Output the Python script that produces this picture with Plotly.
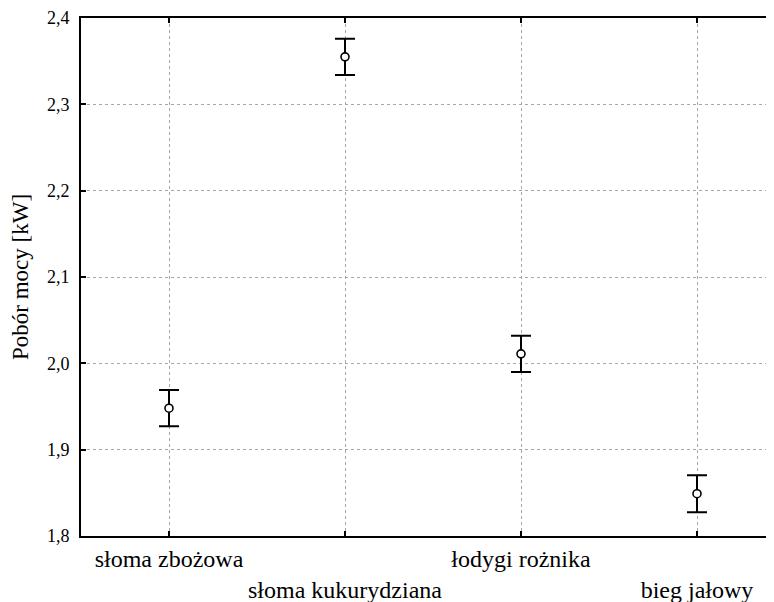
import plotly.graph_objects as go

categories = ["słoma zbożowa", "słoma kukurydziana", "łodygi rożnika", "bieg jałowy"]
means = [1.948, 2.355, 2.011, 1.849]
errors = [0.021, 0.021, 0.021, 0.0215]
y_ticks = [1.8, 1.9, 2.0, 2.1, 2.2, 2.3, 2.4]
y_tick_labels = ["1,8", "1,9", "2,0", "2,1", "2,2", "2,3", "2,4"]

x_pos = list(range(len(categories)))
tick_text = [c if i % 2 == 0 else "&nbsp;<br>" + c for i, c in enumerate(categories)]

FONT = "Liberation Serif"

fig = go.Figure()
fig.add_trace(go.Scatter(
    x=x_pos, y=means, mode="markers",
    marker=dict(symbol="circle", size=8, color="white",
                line=dict(color="black", width=1.6)),
    error_y=dict(type="data", array=errors, visible=True,
                 color="black", thickness=2, width=10),
    showlegend=False, hoverinfo="skip",
))

fig.update_layout(
    width=777, height=594,
    margin=dict(l=73, r=0, t=10, b=66),
    paper_bgcolor="white", plot_bgcolor="white",
    font=dict(family=FONT, color="black"),
    xaxis=dict(
        range=[-0.5, 3.5], tickmode="array", tickvals=x_pos, ticktext=tick_text,
        showline=True, linecolor="black", linewidth=2, mirror="ticks",
        ticks="inside", ticklen=5, tickwidth=2, tickcolor="black",
        showgrid=True, gridcolor="#a8a8a8", griddash="dot", gridwidth=1,
        tickfont=dict(size=24, family=FONT), zeroline=False,
    ),
    yaxis=dict(
        range=[1.8, 2.4], tickmode="array", tickvals=y_ticks, ticktext=y_tick_labels,
        showline=True, linecolor="black", linewidth=2, mirror=False,
        ticks="inside", ticklen=5, tickwidth=2, tickcolor="black",
        showgrid=True, gridcolor="#a8a8a8", griddash="dot", gridwidth=1,
        tickfont=dict(size=18, family=FONT), zeroline=False,
        ticklabelstandoff=6,
        title=dict(text="Pobór mocy [kW]", font=dict(size=23, family=FONT), standoff=12),
    ),
)

fig.write_html("out.html")
